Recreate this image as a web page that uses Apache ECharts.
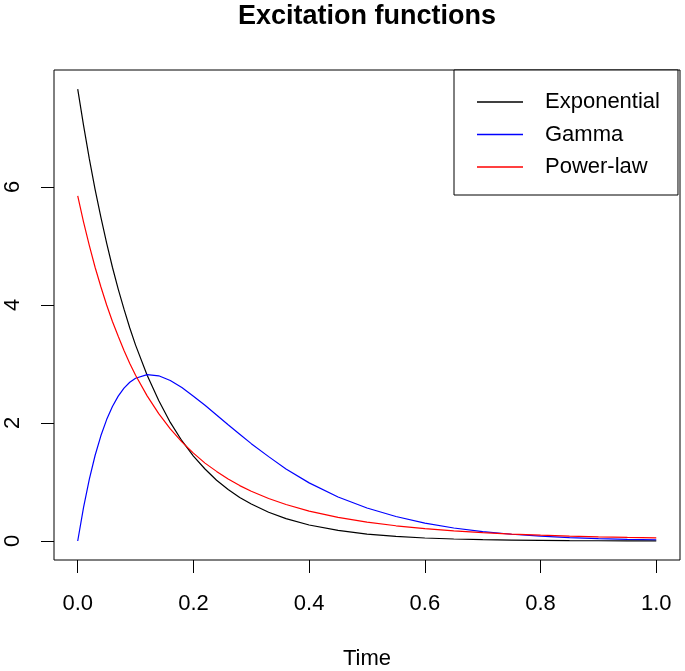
<!DOCTYPE html>
<html>
<head>
<meta charset="utf-8">
<script src="https://cdn.jsdelivr.net/npm/echarts@6/dist/echarts.min.js"></script>
<style>
html,body{margin:0;padding:0;background:#fff;}
#chart{width:685px;height:671px;}
</style>
</head>
<body>
<div id="chart"></div>
<script>
// Time values (x) at which the curves were read
var times = [0, 0.01, 0.02, 0.03, 0.04, 0.05, 0.06, 0.07, 0.08, 0.09, 0.10,
  0.12, 0.14, 0.16, 0.18, 0.20, 0.22, 0.24, 0.26, 0.28, 0.30, 0.33, 0.36, 0.40,
  0.45, 0.50, 0.55, 0.60, 0.65, 0.70, 0.75, 0.80, 0.85, 0.90, 0.95, 1.00];
var exponential = [7.66, 7.05, 6.48, 5.96, 5.49, 5.05, 4.64, 4.27, 3.93, 3.61, 3.32,
  2.81, 2.38, 2.01, 1.70, 1.44, 1.22, 1.03, 0.874, 0.739, 0.626, 0.487, 0.379, 0.271,
  0.179, 0.118, 0.078, 0.051, 0.034, 0.022, 0.015, 0.010, 0.006, 0.004, 0.003, 0.002];
var gamma = [0, 0.567, 1.046, 1.449, 1.783, 2.058, 2.280, 2.455, 2.590, 2.690, 2.759,
  2.821, 2.800, 2.720, 2.600, 2.455, 2.300, 2.135, 1.970, 1.810, 1.650, 1.430, 1.220, 0.985,
  0.745, 0.560, 0.415, 0.303, 0.220, 0.159, 0.114, 0.082, 0.058, 0.041, 0.029, 0.021];
var powerLaw = [5.85, 5.41, 5.01, 4.64, 4.31, 4.00, 3.72, 3.47, 3.23, 3.01, 2.81,
  2.46, 2.16, 1.90, 1.68, 1.49, 1.32, 1.18, 1.05, 0.939, 0.843, 0.720, 0.618, 0.507,
  0.400, 0.320, 0.258, 0.209, 0.172, 0.142, 0.118, 0.099, 0.083, 0.071, 0.060, 0.052];
var xTicks = [0, 0.2, 0.4, 0.6, 0.8, 1.0];
var yTicks = [0, 2, 4, 6];
var seriesNames = ['Exponential', 'Gamma', 'Power-law'];
var seriesColors = ['#000000', '#0000ff', '#ff0000'];

function pairs(vals) {
  return times.map(function (t, i) { return [t, vals[i]]; });
}
var allValues = [exponential, gamma, powerLaw];

var font = 'Liberation Sans, Arial, sans-serif';
var chart = echarts.init(document.getElementById('chart'), null, {renderer: 'canvas'});
chart.setOption({
  animation: false,
  backgroundColor: '#ffffff',
  title: {
    text: 'Excitation functions',
    left: 367,
    top: 3,
    padding: 0,
    textAlign: 'center',
    textStyle: {fontFamily: font, fontSize: 27, fontWeight: 'bold', color: '#000'}
  },
  legend: {
    orient: 'vertical',
    left: 454,
    top: 70,
    padding: [21, 18, 17, 23],
    itemGap: 10.5,
    itemWidth: 46,
    itemHeight: 1.5,
    icon: 'rect',
    borderColor: '#000',
    borderWidth: 1,
    borderRadius: 0,
    backgroundColor: '#fff',
    textStyle: {fontFamily: font, fontSize: 22, color: '#000', padding: [0, 0, 0, 17]},
    data: seriesNames
  },
  grid: {
    left: 54, right: 5, top: 70, bottom: 111,
    outerBoundsMode: 'none',
    containLabel: false,
    show: true, borderColor: '#000', borderWidth: 1, backgroundColor: 'transparent'
  },
  xAxis: {
    type: 'value',
    min: -0.041, max: 1.041,
    name: 'Time',
    nameLocation: 'middle',
    nameGap: 88,
    nameTextStyle: {fontFamily: font, fontSize: 22, color: '#000'},
    axisLine: {show: false, onZero: false},
    splitLine: {show: false},
    axisTick: {show: true, inside: false, length: 13, customValues: xTicks,
      lineStyle: {color: '#000', width: 1}},
    axisLabel: {show: true, margin: 33, customValues: xTicks,
      fontFamily: font, fontSize: 22, color: '#000',
      formatter: function (v) { return v.toFixed(1); }}
  },
  yAxis: {
    type: 'value',
    min: -0.322, max: 7.983,
    axisLine: {show: false, onZero: false},
    splitLine: {show: false},
    axisTick: {show: true, inside: false, length: 13, customValues: yTicks,
      lineStyle: {color: '#000', width: 1}},
    axisLabel: {show: true, margin: 30, rotate: 90, customValues: yTicks,
      fontFamily: font, fontSize: 22, color: '#000',
      formatter: function (v) { return String(Math.round(v)); }}
  },
  series: seriesNames.map(function (n, i) {
    return {
      name: n,
      type: 'line',
      data: pairs(allValues[i]),
      showSymbol: false,
      symbol: 'none',
      smooth: false,
      color: seriesColors[i],
      lineStyle: {color: seriesColors[i], width: 1.2},
      z: 2 + i
    };
  })
});
</script>
</body>
</html>
